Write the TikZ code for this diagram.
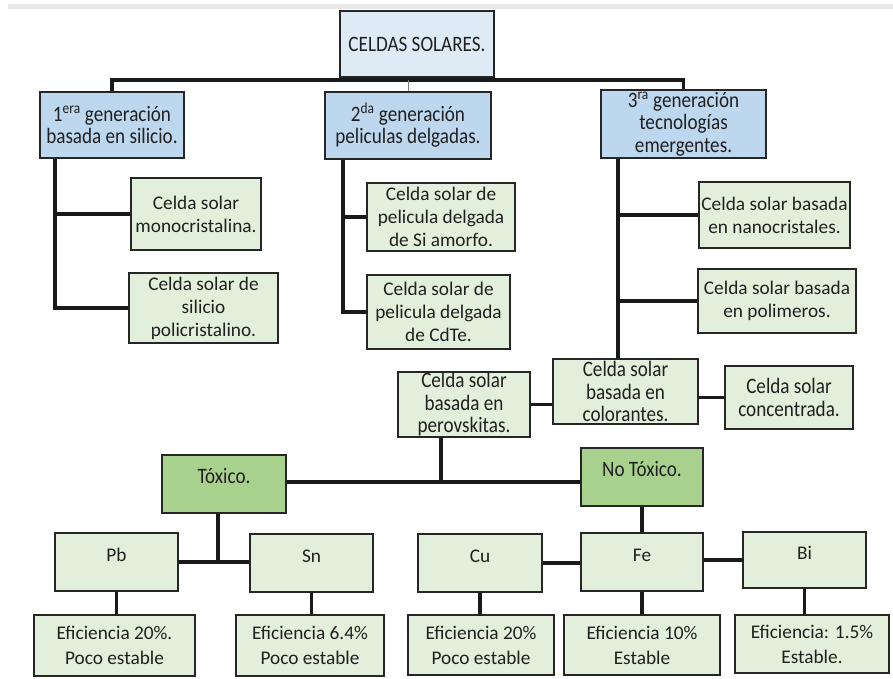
\documentclass[tikz,border=0pt]{standalone}
\usepackage{fontspec}
\setmainfont{Carlito}
\newfontfamily\tallfont{Carlito}[FakeStretch=0.87]
\definecolor{cBlueL}{HTML}{DEEBF7}
\definecolor{cBlue}{HTML}{BDD7EE}
\definecolor{cGreenL}{HTML}{E2EFDA}
\definecolor{cGreen}{HTML}{A9D18E}
\definecolor{cText}{HTML}{202020}
\newcommand\mkbox[7]{\node[#2, minimum width={#5-#3}, minimum height={#6-#4}] (#1) at ({(#3+#5)/2},{(#4+#6)/2}) {#7};}
\tikzset{
  bx/.style={draw=black!85, line width=2pt, align=center, inner sep=0pt, text=cText,
             font=\fontsize{19.3}{23}\selectfont},
  tall/.style={font=\tallfont\fontsize{22}{22.5}\selectfont},
  blueA/.style={bx, tall, fill=cBlueL},
  blueB/.style={bx, tall, fill=cBlue},
  grn/.style={bx, fill=cGreenL},
  grnT/.style={bx, tall, fill=cGreenL},
  grnD/.style={bx, tall, fill=cGreen},
  raised/.style={text height=13pt, text depth=15pt},
  effbox/.style={grn, font=\fontsize{19.3}{25}\selectfont},
  conn/.style={line width=3.5pt, black!90},
}
\begin{document}
\begin{tikzpicture}[x=1pt, y=-1pt]
\useasboundingbox (0,0) rectangle (893,678);
\fill[white] (0,0) rectangle (893,678);
\fill[gray!18] (8,4) rectangle (893,9);

% boxes
\mkbox{root}{blueA}{340}{11}{494}{77}{CELDAS SOLARES.}
\mkbox{g1}{blueB}{40}{92}{184}{158}{1\textsuperscript{era} generación\\basada en silicio.}
\mkbox{g2}{blueB}{325}{92}{491}{159}{2\textsuperscript{da} generación\\peliculas delgadas.}
\mkbox{g3}{blueB}{601}{90}{766}{158}{3\textsuperscript{ra} generación\\tecnologías\\emergentes.}
\mkbox{mono}{grn}{131}{178}{261}{250}{Celda solar\\monocristalina.}
\mkbox{poli}{grn}{129}{273}{278}{343}{Celda solar de\\silicio\\policristalino.}
\mkbox{amorfo}{grn}{367}{183}{515}{251}{Celda solar de\\pelicula delgada\\de Si amorfo.}
\mkbox{cdte}{grn}{367}{275}{510}{349}{Celda solar de\\pelicula delgada\\de CdTe.}
\mkbox{nano}{grn}{699}{182}{850}{248}{Celda solar basada\\en nanocristales.}
\mkbox{polim}{grn}{698}{269}{856}{333}{Celda solar basada\\en polimeros.}
\mkbox{perov}{grnT}{398}{372}{530}{437}{Celda solar\\basada en\\perovskitas.}
\mkbox{col}{grnT}{553}{359}{698}{424}{Celda solar\\basada en\\colorantes.}
\mkbox{conc}{grnT}{725}{366}{853}{429}{Celda solar\\concentrada.}
\mkbox{tox}{grnD,raised}{162}{455}{286}{513}{Tóxico.}
\mkbox{notox}{grnD,raised}{581}{448}{703}{506}{No Tóxico.}
\mkbox{pb}{grn,raised}{55}{533}{178}{591}{Pb}
\mkbox{sn}{grn,raised}{250}{534}{373}{592}{Sn}
\mkbox{cu}{grn,raised}{418}{534}{542}{592}{Cu}
\mkbox{fe}{grn,raised}{581}{533}{703}{591}{Fe}
\mkbox{bi}{grn,raised}{743}{532}{866}{588}{Bi}
\mkbox{epb}{effbox}{34}{615}{195}{676}{Eficiencia 20\%.\\Poco estable}
\mkbox{esn}{effbox}{236}{615}{384}{676}{Eficiencia 6.4\%\\Poco estable}
\mkbox{ecu}{effbox}{408}{615}{554}{675}{Eficiencia 20\%\\Poco estable}
\mkbox{efe}{effbox}{564}{615}{720}{675}{Eficiencia 10\%\\Estable}
\mkbox{ebi}{effbox}{735}{615}{889}{673}{Eficiencia: 1.5\%\\Estable.}

% connectors
\coordinate (bary) at (0,80);
\draw[conn] (root.south) -- (root.south |- bary);
\draw[conn] (g1.north) -- (g1.north |- bary) -- (g3.north |- bary) -- (g3.north);
\draw[line width=1pt, gray] (g2.north) -- (g2.north |- bary);

\coordinate (t1) at (55,0);
\draw[conn] (g1.south -| t1) |- (poli.west);
\draw[conn] (mono.west -| t1) -- (mono.west);

\coordinate (t2) at (343,0);
\draw[conn] (g2.south -| t2) |- (cdte.west);
\draw[conn] (amorfo.west -| t2) -- (amorfo.west);

\coordinate (t3) at (618,0);
\draw[conn] (g3.south -| t3) -- (col.north -| t3);
\draw[conn] (nano.west -| t3) -- (nano.west);
\draw[conn] (polim.west -| t3) -- (polim.west);

\draw[conn] (perov.east) -- (perov.east -| col.west);
\draw[conn] (conc.west -| col.east) -- (conc.west);

\coordinate (tb) at (441,482);
\draw[conn] (perov.south -| tb) -- (tb);
\draw[conn] (tb -| tox.east) -- (tb -| notox.west);

\coordinate (tb2) at (218,563);
\draw[conn] (tox.south -| tb2) -- (tb2);
\draw[conn] (pb.east) -- (pb.east -| sn.west);

\draw[conn] (notox.south) -- (fe.north);
\draw[conn] (cu.east) -- (cu.east -| fe.west);
\draw[conn] (bi.west -| fe.east) -- (bi.west);

\draw[conn] (pb.south) -- (pb.south |- epb.north);
\draw[conn] (sn.south) -- (sn.south |- esn.north);
\draw[conn] (cu.south) -- (cu.south |- ecu.north);
\draw[conn] (fe.south) -- (fe.south |- efe.north);
\draw[conn] (bi.south) -- (bi.south |- ebi.north);
\end{tikzpicture}
\end{document}
